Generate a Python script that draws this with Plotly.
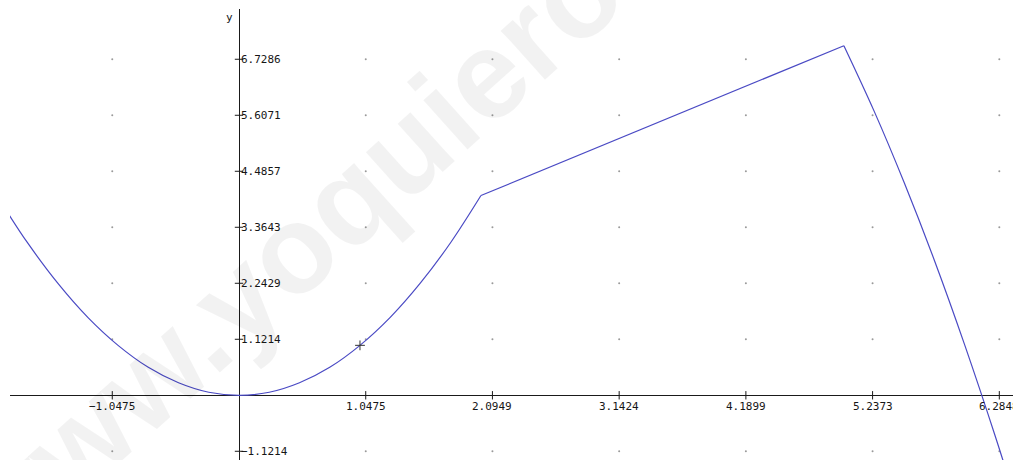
import plotly.graph_objects as go

# Tick positions shown on the axes
x_ticks = [-1.0475, 1.0475, 2.0949, 3.1424, 4.1899, 5.2373, 6.2848]
x_tick_labels = ["−1.0475", "1.0475", "2.0949", "3.1424", "4.1899", "5.2373", "6.2848"]
y_ticks = [-1.1214, 1.1214, 2.2429, 3.3643, 4.4857, 5.6071, 6.7286]
y_tick_labels = ["−1.1214", "1.1214", "2.2429", "3.3643", "4.4857", "5.6071", "6.7286"]

# Piece 1: parabolic branch up to x = 2
curve1_x = [-1.9, -1.75, -1.5, -1.25, -1.0, -0.75, -0.5, -0.25, 0.0,
            0.25, 0.5, 0.75, 1.0, 1.25, 1.5, 1.75, 2.0]
curve1_y = [3.61, 3.06, 2.25, 1.56, 1.0, 0.56, 0.25, 0.06, 0.0,
            0.06, 0.25, 0.56, 1.0, 1.56, 2.25, 3.06, 4.0]

# Piece 2: straight segment
curve2_x = [2.0, 5.0]
curve2_y = [4.0, 7.0]

# Piece 3: falling branch after the peak
curve3_x = [5.0, 5.25, 5.5, 5.75, 6.0, 6.25, 6.4]
curve3_y = [7.0, 5.69, 4.25, 2.69, 1.0, -0.81, -1.96]

# Marked point
point_x = [1.0]
point_y = [1.0]

LINE = "#4a4ac4"
AXIS = "#1a1a1a"
FONT = "DejaVu Sans Mono"
TXT = "#161616"

fig = go.Figure()

# grid dots at tick intersections
gx, gy = [], []
for xv in x_ticks:
    for yv in y_ticks:
        gx.append(xv)
        gy.append(yv)
fig.add_trace(go.Scatter(x=gx, y=gy, mode="markers",
                         marker=dict(size=2, color="#9a9a9a"),
                         hoverinfo="skip", showlegend=False))

# axis tick marks
fig.add_trace(go.Scatter(x=x_ticks, y=[0] * len(x_ticks), mode="markers",
                         marker=dict(symbol="line-ns", size=6,
                                     line=dict(width=1, color=AXIS)),
                         hoverinfo="skip", showlegend=False))
fig.add_trace(go.Scatter(x=[0] * len(y_ticks), y=y_ticks, mode="markers",
                         marker=dict(symbol="line-ew", size=6,
                                     line=dict(width=1, color=AXIS)),
                         hoverinfo="skip", showlegend=False))

for cx, cy, shape in [(curve1_x, curve1_y, "spline"),
                      (curve2_x, curve2_y, "linear"),
                      (curve3_x, curve3_y, "spline")]:
    fig.add_trace(go.Scatter(x=cx, y=cy, mode="lines",
                             line=dict(color=LINE, width=1.2, shape=shape),
                             showlegend=False))

fig.add_trace(go.Scatter(x=point_x, y=point_y, mode="markers",
                         marker=dict(symbol="cross-thin", size=7,
                                     line=dict(width=1, color="#333333")),
                         showlegend=False))

annotations = []
# watermark (drawn first so labels sit on top)
annotations.append(dict(x=0.51, y=0.925, xref="paper", yref="paper",
                        xanchor="center", yanchor="middle",
                        text="<b>www.yoquieroaprobar.es</b>", showarrow=False,
                        textangle=-42,
                        font=dict(family="Liberation Sans", size=125,
                                  color="rgba(0,0,0,0.05)")))
for xv, lab in zip(x_ticks, x_tick_labels):
    annotations.append(dict(x=xv, y=0, xref="x", yref="y", text=lab,
                            showarrow=False, xanchor="center", yanchor="top",
                            yshift=-3, font=dict(family=FONT, size=11, color=TXT)))
for yv, lab in zip(y_ticks, y_tick_labels):
    annotations.append(dict(x=0, y=yv, xref="x", yref="y", text=lab,
                            showarrow=False, xanchor="left", yanchor="middle",
                            xshift=0, font=dict(family=FONT, size=11, color=TXT)))
annotations.append(dict(x=0, y=1, xref="x", yref="paper", text="y",
                        showarrow=False, xanchor="center", yanchor="middle",
                        xshift=-10, yshift=-8,
                        font=dict(family=FONT, size=11, color=TXT)))

fig.update_layout(
    width=1013, height=460,
    margin=dict(l=10, r=0, t=9, b=0),
    paper_bgcolor="white", plot_bgcolor="white",
    xaxis=dict(range=[-1.893, 6.398], showgrid=False, showticklabels=False,
               ticks="", zeroline=True, zerolinecolor=AXIS, zerolinewidth=1,
               showline=False),
    yaxis=dict(range=[-1.296, 7.735], showgrid=False, showticklabels=False,
               ticks="", zeroline=True, zerolinecolor=AXIS, zerolinewidth=1,
               showline=False),
    annotations=annotations,
)

fig.write_html("out.html")
